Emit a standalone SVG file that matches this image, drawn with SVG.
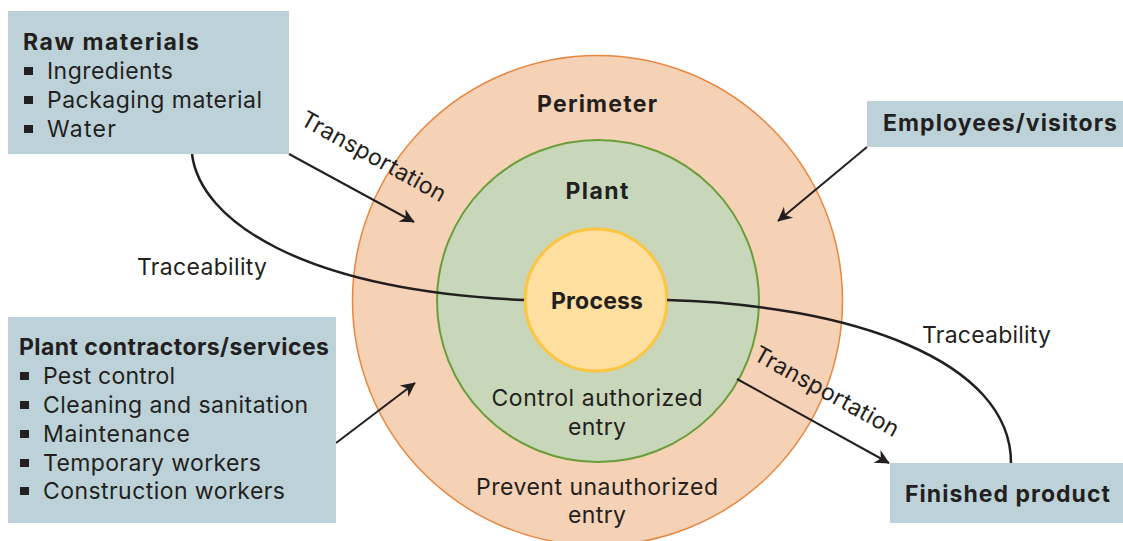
<svg xmlns="http://www.w3.org/2000/svg" width="1123" height="541" viewBox="0 0 1123 541">
<defs>
<style>
.box{fill:#bdd2d8;stroke:none}
.t{font-family:Inter,"Open Sans","Liberation Sans",sans-serif;font-size:23px;fill:#231f20}
.b{font-weight:700}
.m{text-anchor:middle}
.bul{fill:#231f20}
.arr{fill:none;stroke:#231f20;stroke-width:2;marker-end:url(#ah)}
.tr{fill:none;stroke:#231f20;stroke-width:2.5}
</style>
<marker id="ah" viewBox="0 0 10 10" refX="9" refY="5" markerWidth="8" markerHeight="8" markerUnits="userSpaceOnUse" orient="auto" overflow="visible">
<path d="M0,0 L10,5 L0,10 L3,5 Z" fill="#231f20" transform="scale(1.8) translate(-4.5,-2.2)"/>
</marker>
</defs>
<rect width="1123" height="541" fill="#ffffff"/>

<g id="perimeter">
<circle cx="597.5" cy="300.5" r="245" fill="#f5d1b5" stroke="#e8873f" stroke-width="1.5"/>
<text class="t b m" x="597" y="112" textLength="120">Perimeter</text>
<text class="t m" x="597" y="495" textLength="242">Prevent unauthorized</text>
<text class="t m" x="597" y="523" textLength="58">entry</text>
</g>
<g id="plant">
<circle cx="598" cy="301" r="161" fill="#c8d6b9" stroke="#6a9e3a" stroke-width="2"/>
<text class="t b m" x="597" y="199" textLength="63">Plant</text>
<text class="t m" x="597" y="406" textLength="211">Control authorized</text>
<text class="t m" x="597" y="435" textLength="58">entry</text>
</g>
<g id="process">
<circle cx="596" cy="300" r="71" fill="#fedf9f" stroke="#fdc43f" stroke-width="3"/>
<text class="t b m" x="597" y="309" textLength="92">Process</text>
</g>

<g id="connectors">
<path class="tr" d="M192,154 C200,220 300,290 524,300"/>
<path class="tr" d="M667,300 C850,305 1011,360 1011,463"/>
<path class="arr" d="M289,154 L414,222"/>
<path class="arr" d="M737,379 L889,463"/>
<path class="arr" d="M336,443 L415,383"/>
<path class="arr" d="M867,147 L778,221"/>
<text class="t" x="299" y="124" transform="rotate(29 299 124)" textLength="162">Transportation</text>
<text class="t" x="752" y="359" transform="rotate(29 752 359)" textLength="162">Transportation</text>
<text class="t" x="137" y="275" textLength="130">Traceability</text>
<text class="t" x="922" y="343" textLength="129">Traceability</text>
</g>

<g id="raw-materials">
<rect class="box" x="8" y="11" width="281" height="143"/>
<text class="t b" x="23" y="50" textLength="176">Raw materials</text>
<rect class="bul" x="24" y="67" width="9" height="8"/>
<text class="t" x="47" y="79" textLength="126">Ingredients</text>
<rect class="bul" x="24" y="96" width="9" height="8"/>
<text class="t" x="47" y="108" textLength="215">Packaging material</text>
<rect class="bul" x="24" y="125" width="9" height="8"/>
<text class="t" x="47" y="137" textLength="69">Water</text>
</g>

<g id="contractors">
<rect class="box" x="8" y="317" width="328" height="206"/>
<text class="t b" x="19" y="355" textLength="310">Plant contractors/services</text>
<rect class="bul" x="20" y="372" width="9" height="8"/>
<text class="t" x="43" y="384" textLength="132">Pest control</text>
<rect class="bul" x="20" y="401" width="9" height="8"/>
<text class="t" x="43" y="413" textLength="265">Cleaning and sanitation</text>
<rect class="bul" x="20" y="430" width="9" height="8"/>
<text class="t" x="43" y="442" textLength="147">Maintenance</text>
<rect class="bul" x="20" y="459" width="9" height="8"/>
<text class="t" x="43" y="471" textLength="218">Temporary workers</text>
<rect class="bul" x="20" y="487" width="9" height="8"/>
<text class="t" x="43" y="499" textLength="242">Construction workers</text>
</g>

<g id="employees">
<rect class="box" x="867" y="101" width="256" height="46"/>
<text class="t b" x="883" y="131" textLength="234">Employees/visitors</text>
</g>

<g id="finished-product">
<rect class="box" x="890" y="463" width="233" height="60"/>
<text class="t b" x="905" y="502" textLength="205">Finished product</text>
</g>
</svg>
